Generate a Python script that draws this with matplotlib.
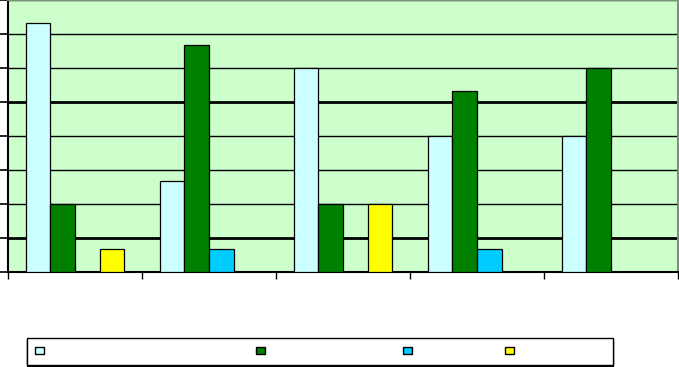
import numpy as np
import matplotlib
matplotlib.use("Agg")
import matplotlib.pyplot as plt
from matplotlib.patches import Patch

# ===== data (gridline step = 3) =====
groups = ["", "", "", "", ""]
s_light = [22, 8, 18, 12, 12]
s_green = [6, 20, 6, 16, 18]
s_blue = [0, 2, 0, 2, 0]
s_yellow = [2, 0, 6, 0, 0]
series_names = [" " * 58, " " * 37, " " * 24, " " * 25]

colors = ["#CCFFFF", "#008000", "#00CCFF", "#FFFF00"]

fig = plt.figure(figsize=(6.79, 3.67), dpi=100)
ax = fig.add_axes([8 / 679, 95 / 367, 670 / 679, 272 / 367])
ax.set_facecolor("#CCFFCC")

x = np.arange(len(groups))
w = 0.183
series = [s_light, s_green, s_blue, s_yellow]
for i, (vals, c) in enumerate(zip(series, colors)):
    ax.bar(x + (i - 1.5) * w, vals, w, color=c, edgecolor="black",
           linewidth=0.9, zorder=3)

ax.set_xlim(-0.5, len(groups) - 0.5)
ax.set_ylim(0, 24)
ax.set_yticks(np.arange(0, 25, 3))
ax.set_xticks(np.arange(-0.5, len(groups)))
ax.set_yticklabels([])
ax.set_xticklabels([])
ax.tick_params(axis="y", length=6, width=1.2, direction="out", colors="black")
ax.tick_params(axis="x", length=5, width=1.0, direction="out", colors="black")

ax.grid(axis="y", color="black", linewidth=1.0, zorder=0)
ax.set_axisbelow(True)
gl = ax.get_ygridlines()
gl[1].set_linewidth(2.0)
gl[5].set_linewidth(2.0)

ax.spines["left"].set_linewidth(1.5)
ax.spines["bottom"].set_linewidth(1.5)
ax.spines["top"].set_color("#7F8F7F")
ax.spines["right"].set_color("#7F8F7F")
ax.spines["top"].set_linewidth(1.5)
ax.spines["right"].set_linewidth(1.5)

handles = [Patch(facecolor=c, edgecolor="black", linewidth=1.0) for c in colors]
leg = fig.legend(handles, series_names, ncol=4, loc="lower left",
                 bbox_to_anchor=(27 / 679, 2 / 367), borderaxespad=0,
                 frameon=True, fancybox=False, edgecolor="black", fontsize=8,
                 handlelength=0.8, handleheight=0.63, handletextpad=0.3,
                 columnspacing=0.5, borderpad=0.75,
                 shadow={"ox": 0, "oy": -1.0, "color": "black", "alpha": 1})
leg.get_frame().set_linewidth(1.0)

fig.savefig("out.png", dpi=100)
